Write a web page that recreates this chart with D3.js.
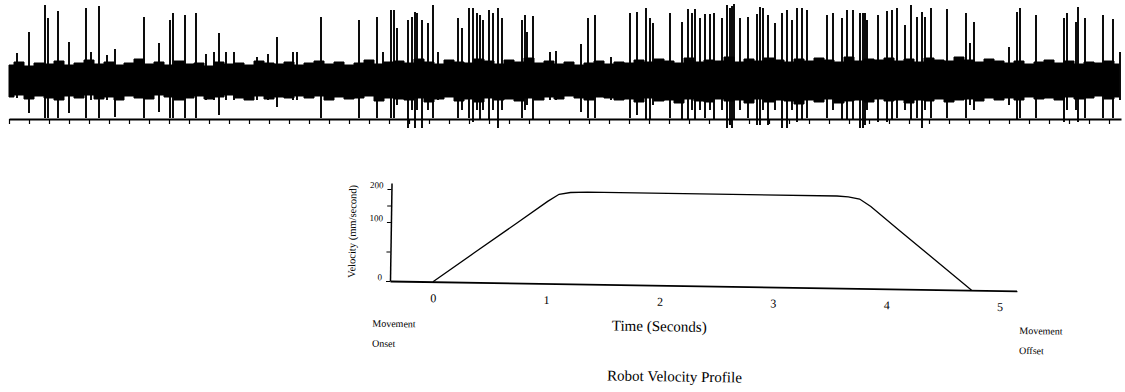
<!DOCTYPE html>
<html>
<head>
<meta charset="utf-8">
<script src="https://cdn.jsdelivr.net/npm/d3@7"></script>
<style>
    body { margin: 0; background: #fff; }
    text { font-family: "Liberation Serif", "Times New Roman", serif; fill: #000; }
</style>
</head>
<body>
<div id="chart-area"></div>
<script>
// recording trace: spikes (ms, up amplitude, down amplitude)
const spikeTimes = [40, 100, 180, 195, 245, 300, 385, 410, 450, 490, 530, 675, 750, 805, 820, 880, 935, 985, 1025, 1050,
    1085, 1125, 1240, 1295, 1340, 1420, 1440, 1560, 1750, 1840, 1870, 1910, 1925, 1940, 1995, 2015, 2030, 2040, 2065, 2095,
    2120, 2145, 2245, 2265, 2300, 2320, 2340, 2355, 2370, 2400, 2420, 2445, 2465, 2565, 2580, 2590, 2620, 2705, 2735, 2860,
    2895, 2930, 3010, 3105, 3140, 3185, 3205, 3220, 3305, 3365, 3395, 3415, 3430, 3455, 3480, 3505, 3525, 3565, 3590, 3605,
    3615, 3625, 3655, 3695, 3740, 3755, 3770, 3795, 3830, 3865, 3890, 3915, 3940, 3965, 3990, 4090, 4120, 4165, 4190, 4220,
    4255, 4270, 4280, 4290, 4345, 4390, 4415, 4440, 4480, 4510, 4540, 4565, 4580, 4610, 4690, 4785, 4805, 4825, 5000, 5040,
    5055, 5135, 5275, 5290, 5335, 5345, 5380, 5470, 5520, 5555];
const spikeUp = [27, 48, 75, 62, 69, 38, 72, 28, 74, 25, 31, 63, 37, 60, 67, 65, 67, 26, 28, 47,
    28, 28, 23, 26, 43, 28, 28, 63, 60, 63, 28, 70, 70, 52, 60, 63, 68, 67, 60, 57,
    75, 28, 62, 52, 72, 72, 67, 65, 60, 70, 67, 72, 62, 60, 65, 48, 64, 28, 29, 36,
    62, 65, 23, 67, 68, 72, 62, 57, 67, 58, 71, 67, 71, 62, 66, 66, 67, 62, 75, 72,
    74, 76, 62, 63, 66, 73, 72, 65, 57, 67, 70, 60, 72, 72, 70, 65, 67, 62, 70, 70,
    67, 67, 67, 60, 65, 69, 70, 72, 55, 75, 63, 68, 63, 72, 71, 67, 37, 58, 33, 68,
    72, 65, 62, 67, 58, 73, 62, 65, 61, 28];
const spikeDown = [-18, -33, -38, -38, -38, -33, -38, -20, -38, -20, -37, -38, -32, -38, -38, -38, -38, -20, -20, -35,
    -20, -20, -20, -20, -27, -20, -20, -38, -38, -38, -20, -38, -38, -25, -48, -30, -48, -30, -48, -30,
    -38, -20, -38, -30, -38, -42, -30, -40, -30, -40, -30, -48, -30, -38, -30, -25, -40, -20, -20, -32,
    -38, -38, -20, -38, -35, -40, -40, -25, -38, -40, -40, -30, -40, -30, -38, -30, -40, -30, -48, -45,
    -48, -40, -30, -38, -45, -45, -30, -45, -30, -48, -48, -30, -42, -40, -38, -38, -30, -40, -40, -40,
    -48, -48, -45, -30, -42, -42, -40, -38, -30, -40, -38, -48, -30, -38, -38, -38, -25, -30, -25, -40,
    -38, -38, -42, -30, -30, -42, -38, -38, -38, -20];
// background noise envelope, one value every 50 ms
const noiseUp = [15, 18, 14, 17, 16, 19, 15, 17, 20, 16,
    18, 15, 17, 21, 16, 18, 15, 19, 16, 17,
    14, 18, 16, 17, 15, 19, 17, 16, 18, 15,
    17, 19, 16, 18, 15, 17, 20, 16, 18, 19,
    17, 21, 18, 16, 20, 18, 17, 21, 19, 16,
    20, 18, 22, 17, 19, 16, 18, 15, 17, 19,
    16, 18, 17, 20, 18, 21, 19, 17, 22, 18,
    20, 19, 23, 18, 21, 19, 22, 20, 18, 21,
    19, 22, 20, 18, 23, 19, 21, 20, 22, 19,
    21, 18, 22, 20, 19, 23, 20, 18, 21, 19,
    17, 19, 16, 18, 20, 17, 19, 16, 18, 17, 19, 16];
const noiseDown = [-17, -15, -19, -16, -18, -20, -16, -18, -15, -19,
    -17, -20, -16, -18, -19, -15, -17, -20, -18, -16,
    -19, -17, -15, -18, -20, -16, -19, -17, -18, -16,
    -18, -16, -20, -17, -19, -18, -16, -21, -18, -19,
    -20, -18, -22, -19, -17, -21, -19, -22, -18, -20,
    -19, -21, -18, -20, -17, -19, -16, -18, -20, -17,
    -18, -20, -19, -22, -18, -21, -20, -23, -19, -21,
    -22, -19, -21, -20, -23, -19, -22, -20, -21, -24,
    -20, -22, -19, -23, -21, -20, -22, -19, -21, -20,
    -23, -20, -21, -19, -22, -20, -19, -21, -18, -20,
    -18, -20, -17, -19, -18, -20, -17, -19, -18, -16, -19, -17];

// robot velocity profile
const velTime = [0, 0.36, 0.72, 1.0, 1.1, 1.2, 1.35, 3.55, 3.65, 3.75, 3.85, 4.1, 4.75];
const velValue = [0, 50, 100, 170, 192, 198, 200, 200, 198, 192, 170, 100, 0];
const timeTicks = [0, 1, 2, 3, 4, 5];
const velTicks = [0, 50, 100, 150, 200];
const velLabels = [0, 100, 200];

const W = 1125, H = 392;
const svg = d3.select("#chart-area").append("svg")
    .attr("width", W).attr("height", H);

// ---- trace ----
const xT = d3.scaleLinear().domain([0, 5560]).range([9, 1121]);
const yT = d3.scaleLinear().domain([-80, 80]).range([160, 0]);

const noise = noiseUp.map((u, i) => ({ t: i * 50, u: u, d: noiseDown[i] }));
svg.append("path")
    .datum(noise)
    .attr("fill", "#000")
    .attr("stroke", "#000")
    .attr("stroke-width", 1)
    .attr("d", d3.area().curve(d3.curveStep).x(d => xT(d.t)).y0(d => yT(d.d)).y1(d => yT(d.u)));

const spikes = spikeTimes.map((t, i) => ({ t: t, u: spikeUp[i], d: spikeDown[i] }));
svg.append("g").selectAll("line")
    .data(spikes)
    .enter().append("line")
    .attr("x1", d => xT(d.t)).attr("x2", d => xT(d.t))
    .attr("y1", d => yT(d.u)).attr("y2", d => yT(d.d))
    .attr("stroke", "#000")
    .attr("stroke-width", 1.9);

const traceAxis = svg.append("g")
    .attr("transform", "translate(0,119)")
    .call(d3.axisBottom(xT).tickValues(d3.range(0, 5561, 100)).tickSize(5).tickSizeOuter(0).tickFormat(""));
traceAxis.select(".domain").attr("stroke-width", 2);
traceAxis.selectAll(".tick line").attr("stroke-width", 1.2);

// ---- velocity profile ----
const x = d3.scaleLinear().domain([0, 5]).range([433, 1000]);
const y = d3.scaleLinear().domain([0, 100, 200]).range([281, 222, 189]);

const g = svg.append("g").attr("transform", "rotate(0.9,390,281)");

const xAxisScale = x.copy().domain([x.invert(390), x.invert(1017)]).range([390, 1017]);
const xAxis = g.append("g")
    .attr("transform", `translate(0,${y(0)})`)
    .call(d3.axisBottom(xAxisScale).tickValues(timeTicks).tickSize(0).tickPadding(12).tickFormat(d3.format("d")));
xAxis.select(".domain").attr("stroke-width", 1.8);
xAxis.selectAll("text").attr("fill", "#000").style("font-size", "12px").style("font-family", "Liberation Serif");

const yTop = y.invert(183);
const yAxisScale = y.copy().domain([0, 100, yTop]).range([281, 222, 183]);
const yAxis = g.append("g")
    .attr("transform", "translate(390,0)")
    .call(d3.axisLeft(yAxisScale).tickValues(velTicks).tickSize(4).tickPadding(4).tickSizeOuter(0)
        .tickFormat(d => velLabels.includes(d) ? d : ""));
yAxis.select(".domain").attr("stroke-width", 1.5);
yAxis.selectAll("text").attr("fill", "#000").style("font-size", "9px").style("font-family", "Liberation Serif").attr("dy", "-0.12em");

g.append("path")
    .datum(velTime.map((t, i) => [t, velValue[i]]))
    .attr("fill", "none")
    .attr("stroke", "#000")
    .attr("stroke-width", 1.3)
    .attr("d", d3.line().x(d => x(d[0])).y(d => y(d[1])));

g.append("text")
    .attr("transform", "translate(355,232) rotate(-90)")
    .attr("text-anchor", "middle")
    .style("font-size", "10.5px")
    .text("Velocity (mm/second)");

g.append("text").attr("x", 373).attr("y", 327).style("font-size", "10px").text("Movement");
g.append("text").attr("x", 373).attr("y", 347).style("font-size", "10px").text("Onset");
g.append("text").attr("x", 1020).attr("y", 324).style("font-size", "10px").text("Movement");
g.append("text").attr("x", 1020).attr("y", 344).style("font-size", "10px").text("Offset");

g.append("text")
    .attr("x", 660).attr("y", 327)
    .attr("text-anchor", "middle")
    .style("font-size", "15px")
    .text("Time (Seconds)");

g.append("text")
    .attr("x", 676).attr("y", 377)
    .attr("text-anchor", "middle")
    .style("font-size", "15px")
    .text("Robot Velocity Profile");
</script>
</body>
</html>
